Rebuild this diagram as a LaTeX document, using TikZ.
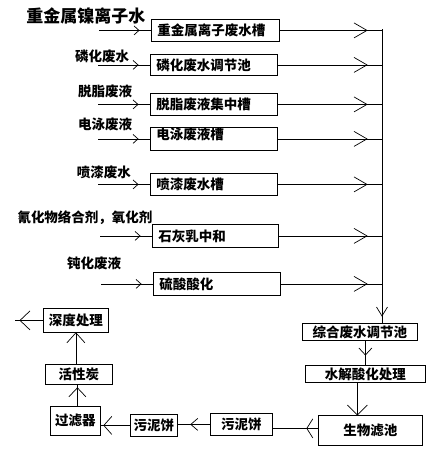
\documentclass[tikz,border=0pt]{standalone}
\usepackage{fontspec}
\setmainfont{Noto Sans CJK SC}
\usetikzlibrary{positioning, decorations.markings}

\newcommand\boxfont{\fontsize{13.5}{14}\selectfont\bfseries}
\newcommand\titlefont{\fontsize{17}{18}\selectfont\bfseries}

\begin{document}
\begin{tikzpicture}[x=1pt, y=-1pt,
       line width = 0.8pt,
      tank/.style = {rectangle, draw, anchor=north west, inner xsep=6pt, inner ysep=0pt,
                     text width=115pt, minimum height=22pt, align=left, font=\boxfont},
      unit/.style = {rectangle, draw, anchor=north west, inner sep=0pt, font=\boxfont},
      feed/.style = {inner sep=0pt, font=\boxfont},
      barb/.style n args = {3}{postaction=decorate,
                     decoration={markings, mark=at position #1 with
                     {\draw[line width=0.7pt] ({-#2},{-#3/2}) -- (0pt,0pt) -- ({-#2},{#3/2});}}}
                        ]
\useasboundingbox (0,0) rectangle (432,451);
% source tanks
\node (title) [font=\titlefont] at (86,16) {重金属镍离子水};
\node (tank1) [tank, text width=116pt] at (151,19) {重金属离子废水槽};
\node (tank2) [tank, minimum height=21pt] at (150,54) {磷化废水调节池};
\node (tank3) [tank] at (150,93) {脱脂废液集中槽};
\node (tank4) [tank, minimum height=23pt] at (150,127) {\raisebox{-1pt}[0pt][0pt]{电泳废液槽}};
\node (tank5) [tank] at (150,173) {喷漆废水槽};
\node (tank6) [tank, text width=114pt, minimum height=23pt] at (152,224) {石灰乳中和};
\node (tank7) [tank, minimum height=23pt] at (153,272) {硫酸酸化};
\node (feed2) [feed] at (102,56) {磷化废水};
\node (feed3) [feed] at (105,91) {脱脂废液};
\node (feed4) [feed] at (105,124) {电泳废液};
\node (feed5) [feed] at (104,172) {喷漆废水};
\node (feed6) [feed] at (85,218) {氰化物络合剂，氧化剂};
\node (feed7) [feed] at (94,263) {钝化废液};
% treatment line
\node (mix) [unit, minimum width=115pt, minimum height=17pt] at (302,323) {综合废水调节池};
\node (hydro) [unit, minimum width=120pt, minimum height=17pt] at (305,365) {水解酸化处理};
\node (bio) [unit, minimum width=104pt, minimum height=30pt] at (318,415) {生物滤池};
\node (cake2) [unit, minimum width=62pt, minimum height=22pt] at (210,413) {污泥饼};
\node (cake1) [unit, minimum width=47pt, minimum height=22pt] at (130,414) {污泥饼};
\node (filt) [unit, minimum width=50pt, minimum height=29pt] at (50,406) {过滤器};
\node (carbon) [unit, minimum width=67pt, minimum height=20pt] at (45,364) {活性炭};
\node (deep) [unit, minimum width=65pt, minimum height=24pt] at (43,308) {深度处理};
\coordinate (bustop) at (382,29);
\coordinate [left=28pt of deep.west] (out);
% inflows
\foreach \i in {1,...,7}{
  \coordinate [left=52pt of tank\i.west] (in\i);
  \draw[barb={-12pt}{5pt}{9pt}] (in\i) -- (tank\i.west);
  \draw[barb={-15pt}{13pt}{15pt}] (tank\i.east) -- (tank\i.east -| bustop);
}
\draw[barb={-7pt}{9pt}{11pt}] (bustop) -- (bustop |- mix.north);
\draw[barb={-10pt}{7pt}{13pt}] ([xshift=5.5pt]mix.south) -- ([xshift=5.5pt]mix.south |- hydro.north);
\draw[barb={1}{10pt}{20pt}] ([xshift=-8pt]hydro.south) -- ([xshift=-8pt]hydro.south |- bio.north);
\draw[barb={-34pt}{6pt}{19pt}] ([yshift=2pt]bio.west) -- ([yshift=2pt]bio.west -| cake2.east);
\draw[barb={-13pt}{7pt}{12pt}] (cake2.west) -- (cake2.west -| cake1.east);
\draw[barb={-3pt}{8pt}{18pt}] (cake1.west) -- (cake1.west -| filt.east);
\draw[barb={-3pt}{9pt}{17pt}] ([xshift=2pt]filt.north) -- ([xshift=2pt]filt.north |- carbon.south);
\draw[barb={1}{10pt}{18pt}] ([xshift=-3pt]carbon.north) -- ([xshift=-3pt]carbon.north |- deep.south);
\draw[barb={-5pt}{10pt}{19pt}] (deep.west) -- (out);
\end{tikzpicture}
\end{document}
